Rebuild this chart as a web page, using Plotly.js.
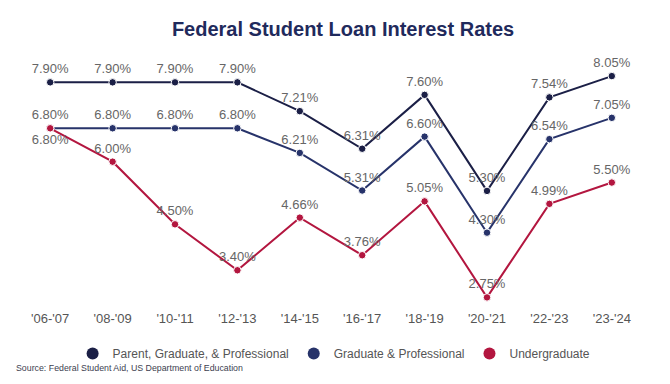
<!DOCTYPE html>
<html>
<head>
<meta charset="utf-8">
<script src="https://cdn.plot.ly/plotly-3.0.1.min.js"></script>
<style>
html,body{margin:0;padding:0;background:#fff;}
#chart{width:670px;height:384px;}
</style>
</head>
<body>
<div id="chart"></div>
<script>
const years = ["'06-'07","'08-'09","'10-'11","'12-'13","'14-'15","'16-'17","'18-'19","'20-'21","'22-'23","'23-'24"];
const parentGrad = [7.90,7.90,7.90,7.90,7.21,6.31,7.60,5.30,7.54,8.05];
const gradProf = [6.80,6.80,6.80,6.80,6.21,5.31,6.60,4.30,6.54,7.05];
const undergrad = [6.80,6.00,4.50,3.40,4.66,3.76,5.05,2.75,4.99,5.50];
const seriesNames = ["Parent, Graduate, & Professional","Graduate & Professional","Undergraduate"];
const colors = ["#1b1f46","#27336a","#b3163f"];

const labelFont = {family:"Liberation Sans, Arial, sans-serif", size:13, color:"#666666"};
function pct(a){return a.map(v=>v.toFixed(2)+'%');}
function lineTrace(y,i,pos){
  return {x:years,y:y,type:'scatter',mode:'lines+markers+text',
    text:pct(y),textposition:pos,textfont:labelFont,
    line:{color:colors[i],width:2},
    marker:{color:colors[i],size:7.5,line:{color:'#ffffff',width:1}},
    showlegend:false,hoverinfo:'skip',cliponaxis:false,name:seriesNames[i]};
}
function legendTrace(i){
  return {x:[null],y:[null],type:'scatter',mode:'markers',name:seriesNames[i],
    marker:{color:colors[i],size:12},showlegend:true,hoverinfo:'skip'};
}
const ugPos = undergrad.map((v,i)=> i===0 ? 'bottom center' : 'top center');
const data = [
  lineTrace(parentGrad,0,'top center'),
  lineTrace(gradProf,1,'top center'),
  lineTrace(undergrad,2,ugPos),
  legendTrace(0),legendTrace(1),legendTrace(2)
];
const layout = {
  width:670,height:384,
  paper_bgcolor:'#ffffff',plot_bgcolor:'#ffffff',
  margin:{l:19,r:27,t:60,b:79},
  title:{text:'<b>Federal Student Loan Interest Rates</b>',
    font:{family:"Liberation Sans, Arial, sans-serif",size:20,color:'#1f2a5c'},
    x:0.512,xref:'container',xanchor:'center',y:0.925,yref:'container',yanchor:'middle'},
  xaxis:{type:'category',range:[-0.5,9.5],showgrid:false,zeroline:false,showline:false,
    ticks:'',ticklabelstandoff:4,tickfont:{family:"Liberation Sans, Arial, sans-serif",size:13,color:'#555555'},fixedrange:true},
  yaxis:{range:[2.568,8.435],showgrid:false,zeroline:false,showline:false,showticklabels:false,ticks:'',fixedrange:true},
  legend:{orientation:'h',x:0.505,xanchor:'center',y:-0.198,yanchor:'middle',
    font:{family:"Liberation Sans, Arial, sans-serif",size:12,color:'#555555'},
    itemwidth:30,traceorder:'normal'},
  annotations:[{text:'Source: Federal Student Aid, US Department of Education',
    xref:'paper',yref:'paper',x:-0.008,y:-0.258,xanchor:'left',yanchor:'middle',showarrow:false,
    font:{family:"Liberation Sans, Arial, sans-serif",size:8.8,color:'#3d4150'}}]
};
Plotly.newPlot('chart',data,layout,{displayModeBar:false,staticPlot:true});
</script>
</body>
</html>
